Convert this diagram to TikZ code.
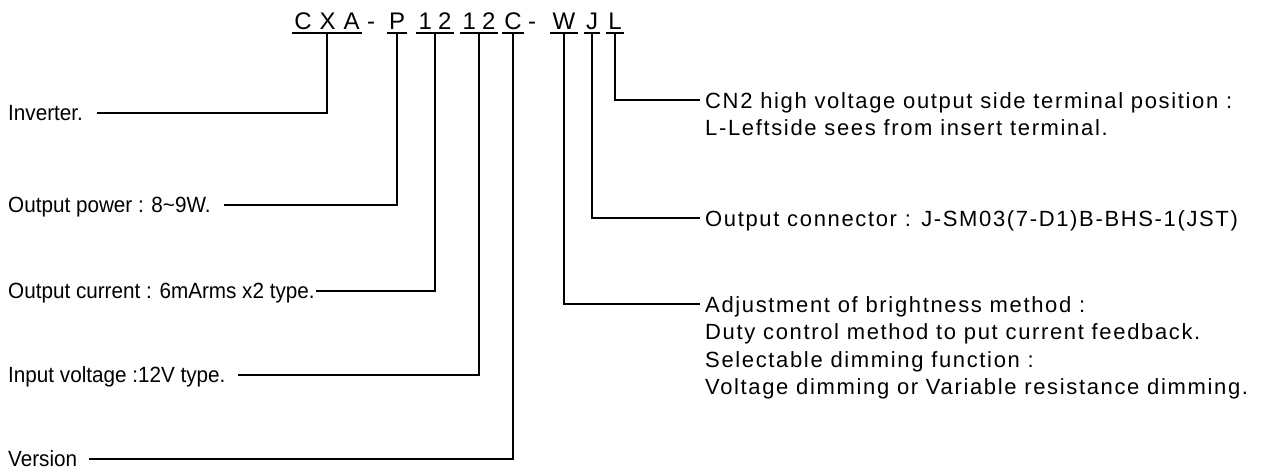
\documentclass[tikz,border=0pt]{standalone}
\usepackage{fontspec}
\setmainfont{Liberation Sans}
\newfontfamily\leftfont[FakeStretch=0.94]{Liberation Sans}
\newfontfamily\rightfont[LetterSpace=7.5]{Liberation Sans}
\usetikzlibrary{positioning}

\begin{document}
\begin{tikzpicture}[
    x=1pt, y=-1pt,
    code/.style={anchor=base, inner xsep=2pt, inner ysep=0pt, text depth=4pt, font=\fontsize{24}{28}\selectfont},
    desc/.style={anchor=west, inner sep=0pt, text height=15.5pt, text depth=0pt, font=\leftfont\fontsize{22}{26}\selectfont},
    note/.style={anchor=north west, inner xsep=5pt, inner ysep=0pt, align=left, font=\rightfont\fontsize{22}{27.5}\selectfont},
    lead/.style={line width=1.6pt},
]
    \useasboundingbox (0,0) rectangle (1264,474);

    % --- Part number ---
    \node[code] (cxa) at (327,29) {C\hspace{8pt}X\hspace{8pt}A};
    \node[code] (d1)  at (371,29) {-};
    \node[code] (p)   at (397,29) {P};
    \node[code] (na)  at (435,29) {1\hspace{6pt}2};
    \node[code] (nb)  at (479,29) {1\hspace{6pt}2};
    \node[code] (ver) at (513,29) {C};
    \node[code] (d2)  at (532,29) {-};
    \node[code] (w)   at (564,29) {W};
    \node[code] (j)   at (592,29) {J};
    \node[code] (l)   at (615,29) {L};
    \foreach \n in {cxa,p,na,nb,ver,w,j,l}
        \draw[lead] (\n.south west) -- (\n.south east);

    % --- Left side ---
    \node[desc] (inv)  at (8,113) {Inverter.};
    \node[desc] (pow)  at (8,205) {Output power : 8\textasciitilde9W.};
    \node[desc] (cur)  at (8,291) {Output current : 6mArms x2 type.};
    \node[desc] (volt) at (8,375) {Input voltage :12V type.};
    \node[desc] (vers) at (8,459) {Version};
    \draw[lead] (cxa.south) |- ([xshift=14pt]inv.east);
    \draw[lead] (p.south)   |- ([xshift=13pt]pow.east);
    \draw[lead] (na.south)  |- ([xshift=1pt]cur.east);
    \draw[lead] (nb.south)  |- ([xshift=12pt]volt.east);
    \draw[lead] (ver.south) |- ([xshift=12pt]vers.east);

    % --- Right side ---
    \node[note] (cn2)  at (700,92)  {CN2 high voltage output side terminal position :\\L-Leftside sees from insert terminal.};
    \node[note] (conn) at (700,210) {Output connector : J-SM03(7-D1)B-BHS-1(JST)};
    \node[note] (adj)  at (700,296) {Adjustment of brightness method :\\Duty control method to put current feedback.\\Selectable dimming function :\\Voltage dimming or Variable resistance dimming.};
    \draw[lead] (l.south) |- ([yshift=-8pt]cn2.north west);
    \draw[lead] (j.south) |- ([yshift=-8pt]conn.north west);
    \draw[lead] (w.south) |- ([yshift=-8pt]adj.north west);
\end{tikzpicture}
\end{document}
